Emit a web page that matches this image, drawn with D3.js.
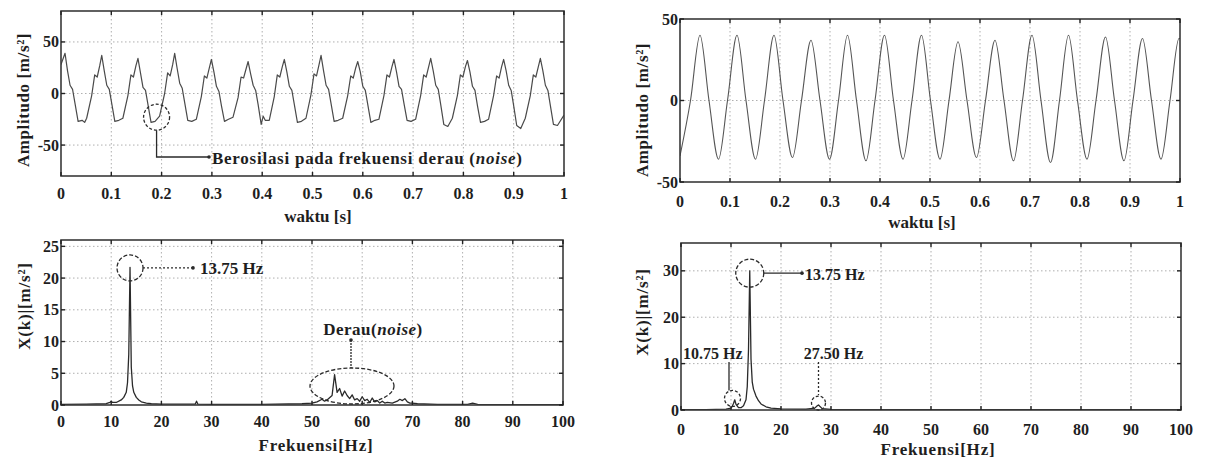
<!DOCTYPE html>
<html><head><meta charset="utf-8">
<script src="https://cdn.jsdelivr.net/npm/d3@7"></script>
<style>
body{margin:0;background:#fff}
svg{display:block}
text{font-family:"Liberation Serif","Times New Roman",serif;font-weight:bold;fill:#1e1e1e}
</style>
</head><body>
<svg id="c" width="1208" height="458"></svg>
<script>
// ---------------- DATA ----------------
const timeTicks = [0,0.1,0.2,0.3,0.4,0.5,0.6,0.7,0.8,0.9,1];
const timeTickLabels = ["0","0.1","0.2","0.3","0.4","0.5","0.6","0.7","0.8","0.9","1"];
const ampTicks = [-50,0,50];
const ampTickLabels = ["-50","0","50"];
const freqTicks = [0,10,20,30,40,50,60,70,80,90,100];
const freqTickLabels = ["0","10","20","30","40","50","60","70","80","90","100"];
const specLeftTicks = [0,5,10,15,20,25];
const specRightTicks = [0,10,20,30];

// raw acceleration signal (t [s], amplitude [m/s^2])
const rawSignal = [
 [0.000,28],[0.008,39],[0.013,22],[0.018,8],[0.023,4],[0.028,-10],[0.034,-27],[0.042,-26],[0.047,-28],
 [0.051,-24],[0.061,-2],[0.067,18],[0.072,16],[0.077,27],[0.081,37],[0.086,22],[0.091,8],[0.096,4],[0.101,-10],[0.107,-27],[0.115,-26],
 [0.123,-24],[0.133,-2],[0.139,18],[0.144,16],[0.149,27],[0.153,34],[0.158,20],[0.163,6],[0.168,3],[0.173,-11],[0.179,-28],[0.187,-27],
 [0.196,-22],[0.206,0],[0.212,20],[0.217,17],[0.222,28],[0.226,39],[0.231,24],[0.236,10],[0.241,5],[0.246,-9],[0.252,-26],[0.260,-27],
 [0.269,-25],[0.279,-3],[0.285,17],[0.290,15],[0.295,25],[0.299,33],[0.304,21],[0.309,7],[0.314,2],[0.319,-12],[0.325,-27],[0.333,-25],
 [0.342,-23],[0.352,-4],[0.358,16],[0.363,15],[0.368,24],[0.372,31],[0.377,19],[0.382,8],[0.387,3],[0.392,-11],[0.398,-30],[0.402,-22],[0.406,-26],
 [0.414,-26],[0.424,-3],[0.430,18],[0.435,16],[0.440,26],[0.444,33],[0.449,21],[0.454,7],[0.459,3],[0.464,-11],[0.470,-28],[0.478,-27],
 [0.487,-24],[0.497,-1],[0.503,19],[0.508,17],[0.513,28],[0.517,37],[0.522,22],[0.527,8],[0.532,4],[0.537,-10],[0.543,-27],[0.551,-26],
 [0.560,-24],[0.570,-2],[0.576,17],[0.581,15],[0.586,25],[0.590,31],[0.595,21],[0.600,7],[0.605,3],[0.610,-11],[0.616,-28],[0.624,-26],
 [0.632,-25],[0.642,-2],[0.648,18],[0.653,16],[0.658,26],[0.662,33],[0.667,21],[0.672,7],[0.677,4],[0.682,-10],[0.688,-26],[0.696,-27],
 [0.705,-25],[0.715,-2],[0.721,18],[0.726,16],[0.731,26],[0.735,34],[0.740,22],[0.745,8],[0.750,4],[0.755,-11],[0.761,-30],[0.769,-32],
 [0.778,-24],[0.788,-2],[0.794,18],[0.799,16],[0.804,26],[0.808,32],[0.813,21],[0.818,7],[0.823,3],[0.828,-12],[0.834,-28],[0.842,-27],
 [0.850,-25],[0.860,-2],[0.866,17],[0.871,15],[0.876,26],[0.880,33],[0.885,22],[0.890,8],[0.895,3],[0.900,-12],[0.906,-31],[0.914,-34],
 [0.923,-24],[0.933,-2],[0.939,18],[0.944,16],[0.949,26],[0.953,34],[0.958,22],[0.963,8],[0.968,3],[0.973,-12],[0.979,-30],[0.987,-31],[1.000,-21]
];

// filtered signal (t [s], amplitude [m/s^2]): extrema and zero crossings
const filteredSignal = [
 [0.000,-34],[0.021,0],[0.040,40],[0.058,0],[0.077,-36],[0.095,0],[0.114,40],[0.132,0],[0.151,-36],[0.169,0],
 [0.188,40],[0.206,0],[0.225,-35],[0.243,0],[0.262,37],[0.280,0],[0.299,-36],[0.317,0],[0.335,40],[0.353,0],
 [0.372,-37],[0.390,0],[0.409,40],[0.427,0],[0.446,-36],[0.464,0],[0.483,40],[0.501,0],[0.520,-36],[0.538,0],
 [0.556,36],[0.574,0],[0.593,-35],[0.611,0],[0.630,37],[0.648,0],[0.667,-37],[0.685,0],[0.704,40],[0.722,0],
 [0.741,-38],[0.759,0],[0.777,40],[0.795,0],[0.814,-36],[0.832,0],[0.851,39],[0.869,0],[0.888,-37],[0.906,0],
 [0.925,38],[0.943,0],[0.962,-36],[0.980,0],[0.998,38],[1.000,38]
];

// spectrum of raw signal (Hz, |X(k)|)
const spectrumRaw = [
 [0,0.1],[5,0.15],[9,0.2],[9.75,0.4],[10,0.6],[10.25,0.4],[11,0.4],[12,0.8],[12.5,1.2],[13,2.0],[13.25,3.5],[13.5,8],
 [13.75,21.7],[14,6],[14.25,3],[14.5,2],[15,1.2],[15.5,0.8],[16,0.5],[17,0.3],[18,0.2],[20,0.15],[26.75,0.15],[27,0.6],
 [27.25,0.15],[30,0.1],[40,0.1],[48,0.2],[50,0.3],[51,0.5],[52,0.9],[52.5,0.6],[53,0.8],[54,1.5],[54.5,4.8],[55,2.0],
 [55.5,2.6],[56,1.4],[56.5,2.2],[57,1.5],[57.5,1.0],[58,1.6],[58.5,0.8],[59,1.0],[59.5,0.6],[60,1.3],[60.5,0.7],[61,0.9],
 [61.5,0.4],[62,1.1],[62.5,0.5],[63,0.7],[63.5,0.3],[64,0.6],[64.5,0.3],[65,0.4],[66,0.3],[67,0.6],[67.5,0.9],[68,0.7],
 [68.5,1.0],[69,0.5],[69.5,0.3],[70,0.3],[71,0.2],[75,0.1],[81,0.1],[82,0.3],[83,0.1],[90,0.05],[100,0.05]
];

// spectrum of filtered signal (Hz, |X(k)|)
const spectrumFiltered = [
 [0,0.1],[5,0.1],[9,0.2],[10,0.4],[10.25,0.8],[10.5,1.4],[10.75,2.2],[11,1.2],[11.5,0.5],[12,0.5],[12.5,0.9],[13,2.2],
 [13.25,5],[13.5,13],[13.75,30],[14,11],[14.25,6],[14.5,4.5],[15,3],[15.5,2],[16,1.3],[17,0.7],[18,0.4],[20,0.25],
 [25,0.2],[26.75,0.4],[27.25,0.9],[27.5,1.1],[27.75,0.8],[28.25,0.3],[30,0.15],[40,0.1],[60,0.05],[100,0.05]
];

// ---------------- DRAWING ----------------
const svg = d3.select("#c");
let clipId = 0;
const TICK_FS = 16, TITLE_FS = 17;

function panel(cfg){
  const x = d3.scaleLinear().domain(cfg.xDomain).range([cfg.x0, cfg.x1]);
  const y = d3.scaleLinear().domain(cfg.yDomain).range([cfg.y1, cfg.y0]);
  const g = svg.append("g");
  g.append("g").selectAll("line").data(cfg.xTicks.slice(1,-1)).join("line")
    .attr("x1", d=>x(d)).attr("x2", d=>x(d)).attr("y1", cfg.y0).attr("y2", cfg.y1)
    .attr("stroke","#9a9a9a").attr("stroke-width",0.8).attr("stroke-dasharray","1.5,2.5");
  g.append("g").selectAll("line").data(cfg.yTicks.filter(d=>y(d)>cfg.y0+1 && y(d)<cfg.y1-1)).join("line")
    .attr("y1", d=>y(d)).attr("y2", d=>y(d)).attr("x1", cfg.x0).attr("x2", cfg.x1)
    .attr("stroke","#9a9a9a").attr("stroke-width",0.8).attr("stroke-dasharray","1.5,2.5");
  const id = "clip"+(clipId++);
  g.append("clipPath").attr("id",id).append("rect")
    .attr("x",cfg.x0).attr("y",cfg.y0-2).attr("width",cfg.x1-cfg.x0).attr("height",cfg.y1-cfg.y0+2);
  const line = d3.line().x(d=>x(d[0])).y(d=>y(d[1])).curve(cfg.curve || d3.curveLinear);
  g.append("path").datum(cfg.data).attr("clip-path",`url(#${id})`)
    .attr("d", line).attr("fill","none").attr("stroke", cfg.lineColor || "#333")
    .attr("stroke-width", cfg.lineWidth || 1.2).attr("stroke-linejoin","round");
  g.append("rect").attr("x",cfg.x0).attr("y",cfg.y0).attr("width",cfg.x1-cfg.x0).attr("height",cfg.y1-cfg.y0)
    .attr("fill","none").attr("stroke","#3a3a3a").attr("stroke-width",1.6);
  const tl = 4;
  cfg.xTicks.forEach(t=>{
    g.append("line").attr("x1",x(t)).attr("x2",x(t)).attr("y1",cfg.y1).attr("y2",cfg.y1-tl).attr("stroke","#222").attr("stroke-width",1.4);
    g.append("line").attr("x1",x(t)).attr("x2",x(t)).attr("y1",cfg.y0).attr("y2",cfg.y0+tl).attr("stroke","#222").attr("stroke-width",1.4);
  });
  cfg.yTicks.forEach(t=>{
    g.append("line").attr("y1",y(t)).attr("y2",y(t)).attr("x1",cfg.x0).attr("x2",cfg.x0+tl).attr("stroke","#222").attr("stroke-width",1.4);
    g.append("line").attr("y1",y(t)).attr("y2",y(t)).attr("x1",cfg.x1).attr("x2",cfg.x1-tl).attr("stroke","#222").attr("stroke-width",1.4);
  });
  g.append("g").selectAll("text").data(cfg.xTicks).join("text")
    .attr("x", d=>x(d)).attr("y", cfg.xLabelY).attr("text-anchor","middle").attr("dominant-baseline","central")
    .attr("font-size",TICK_FS).text((d,i)=>cfg.xTickLabels[i]);
  g.append("g").selectAll("text").data(cfg.yTicks).join("text")
    .attr("x", cfg.x0-2).attr("y", d=>y(d)).attr("text-anchor","end").attr("dominant-baseline","central")
    .attr("font-size",TICK_FS).text((d,i)=>cfg.yTickLabels[i]);
  g.append("text").attr("x",cfg.xTitleX).attr("y",cfg.xTitleY).attr("text-anchor","middle")
    .attr("dominant-baseline","central").attr("font-size",TITLE_FS).attr("letter-spacing",cfg.xTitleLS||0).text(cfg.xTitle);
  g.append("text").attr("transform",`translate(${cfg.yTitleX},${cfg.yTitleY}) rotate(-90)`)
    .attr("text-anchor","middle").attr("dominant-baseline","central").attr("font-size",TITLE_FS)
    .attr("letter-spacing",cfg.yTitleLS||0).text(cfg.yTitle);
  return {x, y, g};
}

const p1 = panel({
  x0:61, x1:564, y0:11, y1:176, xDomain:[0,1], yDomain:[-80,80],
  xTicks:timeTicks, xTickLabels:timeTickLabels, yTicks:ampTicks, yTickLabels:ampTickLabels,
  xLabelY:193, xTitle:"waktu [s]", xTitleX:318, xTitleY:216,
  yTitle:"Amplitudo [m/s²]", yTitleX:23, yTitleY:100, yTitleLS:0.6,
  data:rawSignal, lineColor:"#4a4a4a", lineWidth:1.2
});
const p2 = panel({
  x0:680, x1:1180, y0:19, y1:182, xDomain:[0,1], yDomain:[-50,50],
  xTicks:timeTicks, xTickLabels:timeTickLabels, yTicks:ampTicks, yTickLabels:ampTickLabels,
  xLabelY:201, xTitle:"waktu [s]", xTitleX:922, xTitleY:222,
  yTitle:"Amplitudo [m/s²]", yTitleX:642, yTitleY:110, yTitleLS:0.6,
  data:filteredSignal, lineColor:"#555", lineWidth:1.1, curve:d3.curveMonotoneX
});
const p3 = panel({
  x0:61, x1:563, y0:240, y1:405, xDomain:[0,100], yDomain:[0,26],
  xTicks:freqTicks, xTickLabels:freqTickLabels, yTicks:specLeftTicks, yTickLabels:specLeftTicks.map(String),
  xLabelY:421, xTitle:"Frekuensi[Hz]", xTitleX:316, xTitleY:445, xTitleLS:0.8,
  yTitle:"X(k)|[m/s²]", yTitleX:24, yTitleY:306, yTitleLS:0.8,
  data:spectrumRaw, lineColor:"#2a2a2a", lineWidth:1.3
});
const p4 = panel({
  x0:681, x1:1181, y0:243, y1:410, xDomain:[0,100], yDomain:[0,36],
  xTicks:freqTicks, xTickLabels:freqTickLabels, yTicks:specRightTicks, yTickLabels:specRightTicks.map(String),
  xLabelY:429, xTitle:"Frekuensi[Hz]", xTitleX:938, xTitleY:449, xTitleLS:0.8,
  yTitle:"X(k)|[m/s²]", yTitleX:642, yTitleY:312, yTitleLS:0.8,
  data:spectrumFiltered, lineColor:"#2a2a2a", lineWidth:1.3
});

// ---------------- ANNOTATIONS ----------------
const annC = "#2a2a2a";
function circ(g,cx,cy,r,dash){ g.append("circle").attr("cx",cx).attr("cy",cy).attr("r",r).attr("fill","none")
  .attr("stroke",annC).attr("stroke-width",1.3).attr("stroke-dasharray",dash||null); }
function seg(g,pts,dash){ g.append("path").attr("d",d3.line()(pts)).attr("fill","none").attr("stroke",annC)
  .attr("stroke-width",1.3).attr("stroke-dasharray",dash||null); }
function dot(g,cx,cy){ g.append("circle").attr("cx",cx).attr("cy",cy).attr("r",1.8).attr("fill",annC); }

{
  const g = p1.g, cx = p1.x(0.19), cy = p1.y(-23);
  circ(g,cx,cy,13,"3,2");
  seg(g,[[cx,cy+13],[cx,157],[208,157]]);
  dot(g,209,157);
  const t = g.append("text").attr("x",212).attr("y",158).attr("dominant-baseline","central").attr("font-size",17)
    .attr("textLength",310).attr("lengthAdjust","spacing");
  t.append("tspan").text("Berosilasi pada frekuensi  derau (");
  t.append("tspan").attr("font-style","italic").text("noise");
  t.append("tspan").text(")");
}
{
  const g = p3.g, cx = p3.x(13.75), cy = p3.y(21.6);
  circ(g,cx,cy,13,"4,2");
  seg(g,[[cx+13,cy],[193,cy]],"2,2");
  dot(g,193,cy);
  g.append("text").attr("x",200).attr("y",cy+1).attr("dominant-baseline","central").attr("font-size",17).text("13.75 Hz");
  const t = g.append("text").attr("x",373).attr("y",329).attr("text-anchor","middle").attr("dominant-baseline","central")
    .attr("font-size",17).attr("letter-spacing",0.5);
  t.append("tspan").text("Derau(");
  t.append("tspan").attr("font-style","italic").text("noise");
  t.append("tspan").text(")");
  dot(g,351,340);
  seg(g,[[351,340],[351,368]],"2,1");
  g.append("ellipse").attr("cx",352).attr("cy",386).attr("rx",42).attr("ry",18).attr("fill","none")
    .attr("stroke",annC).attr("stroke-width",1.3).attr("stroke-dasharray","4,2");
}
{
  const g = p4.g, cx = p4.x(13.75), cy = p4.y(29.5);
  circ(g,cx,cy,14,"4,2");
  seg(g,[[cx+14,cy],[802,cy]]);
  dot(g,802,cy);
  g.append("text").attr("x",805).attr("y",cy+1).attr("dominant-baseline","central").attr("font-size",16).text("13.75 Hz");
  const c2x = p4.x(10.3), c2y = p4.y(2.5);
  g.append("text").attr("x",683).attr("y",353).attr("dominant-baseline","central").attr("font-size",16).text("10.75 Hz");
  seg(g,[[p4.x(9.6),362],[p4.x(9.6),c2y-8]]);
  circ(g,c2x,c2y,8,"3,2");
  const c3x = p4.x(27.5), c3y = p4.y(1.5);
  g.append("text").attr("x",c3x+15).attr("y",353).attr("text-anchor","middle").attr("dominant-baseline","central").attr("font-size",16).text("27.50 Hz");
  seg(g,[[c3x,362],[c3x,c3y-8]],"2,2");
  circ(g,c3x,c3y,7,"3,2");
}
</script>
</body></html>
